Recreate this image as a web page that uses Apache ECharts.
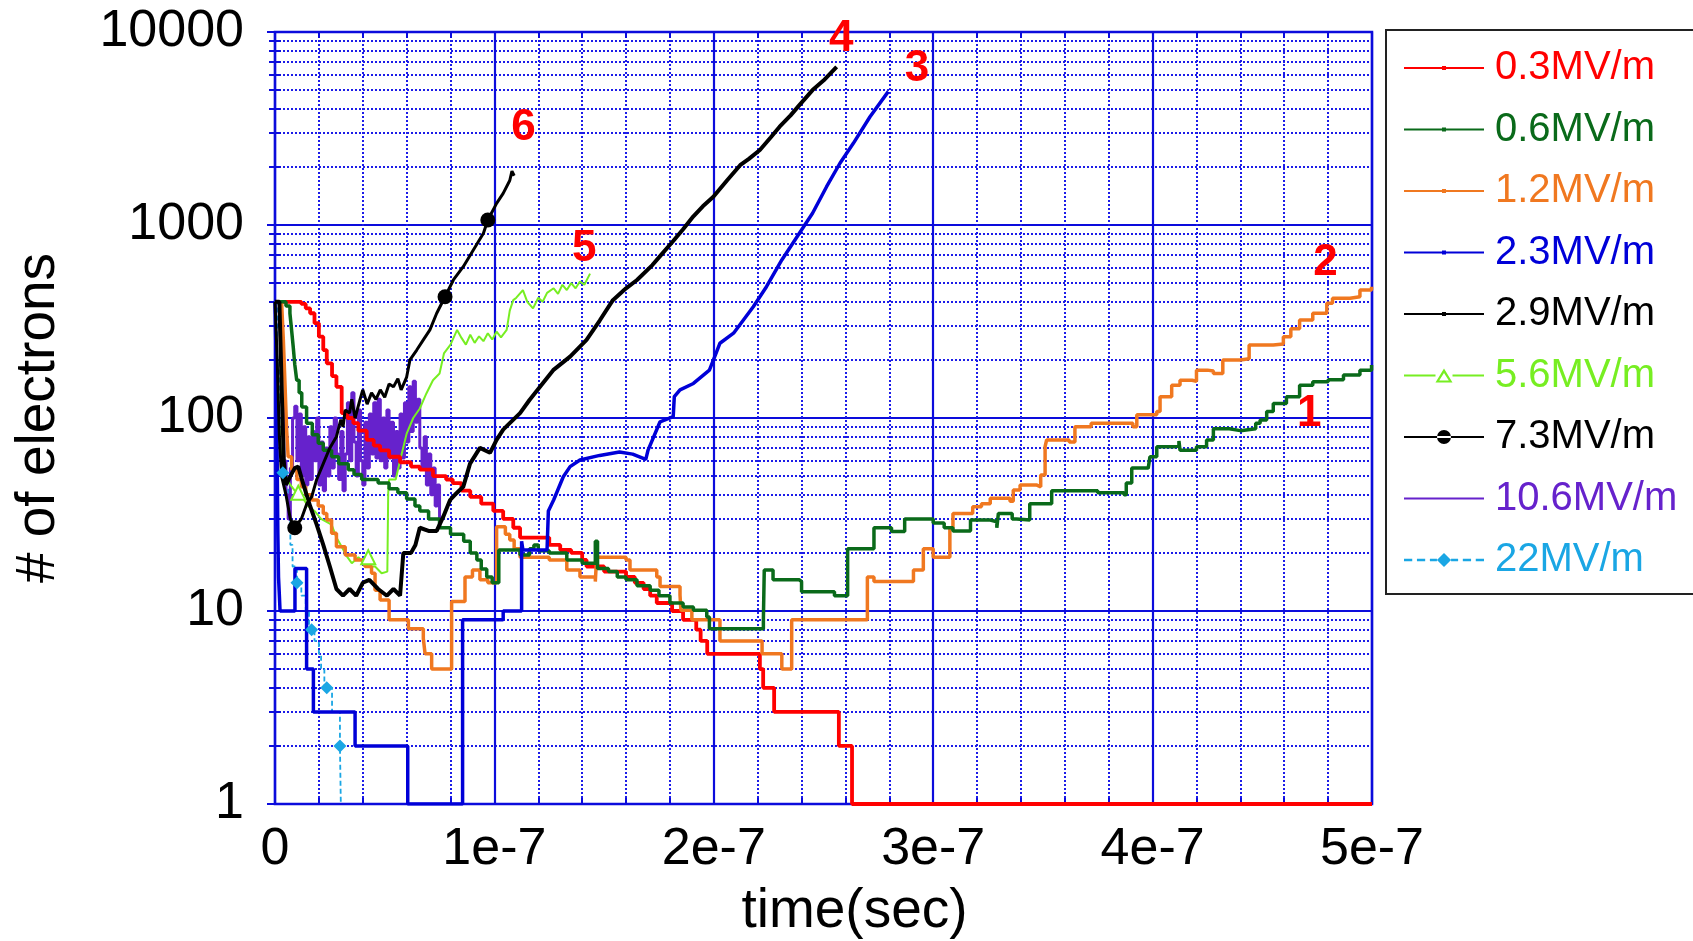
<!DOCTYPE html>
<html><head><meta charset="utf-8">
<script src="https://cdn.jsdelivr.net/npm/echarts@6/dist/echarts.min.js"></script>
<style>html,body{margin:0;padding:0;background:#fff}#c{width:1693px;height:941px}</style>
</head><body><div id="c"></div>
<script>
// ---------- data (time in ns, value = number of electrons) ----------
const seriesNames = ['0.3MV/m','0.6MV/m','1.2MV/m','2.3MV/m','2.9MV/m','5.6MV/m','7.3MV/m','10.6MV/m','22MV/m'];
const xTickLabels = ['0','1e-7','2e-7','3e-7','4e-7','5e-7'];
const yTickLabels = ['1','10','100','1000','10000'];

const s03 = [[0,400],[12,390],[14,370],[16,349],[18,310],[20,264],[22,225],[23.6,192],[26,165],[28,145],[30.4,106],[33,100],[35.7,94],[38,86],[41.8,77],[45,72],[47.9,68],[52,63],[57,59],[62,56],[66,54],[72,50],[78,48],[81,46],[85,42],[89,39],[94,36],[99.5,33],[104,30],[108.6,27],[111.7,24],[125,22],[130,20.7],[135,20],[140,18.4],[142,17],[150,16],[160,15],[164,14],[168,13],[171,12],[174,11],[181,10],[186,9],[192,8],[194,7],[197,6],[221,5],[222.5,4],[227.5,3],[257,2],[263,1],[500,1]];

const s06 = [[0,400],[3.8,400],[5,380],[6.8,349],[7.5,290],[8.3,234],[9,190],[9.9,157],[11,135],[12.2,114],[14.4,94],[17,82],[19.7,74],[22,68],[25.8,63],[29,58],[33.4,54],[36,51],[39.5,48],[47,46],[52,43],[56,41],[60,38],[63.8,35],[66,33],[70,30],[75,27],[80,25],[86,23],[89,20],[92,18.4],[94,16.5],[96.5,15],[99,14],[102,20.7],[111.7,19.5],[116,21],[118,22],[120,20.5],[125,20],[133,18.4],[140,17.7],[146,23],[147,16.6],[152,16],[156,15],[160,14.5],[165,13.5],[171,12.8],[175,12],[180,11],[186,10.5],[190.7,10.1],[196.8,9.3],[198,8.1],[222.6,9],[223,16.3],[227,14.5],[239,14.2],[240,12.6],[255,12],[261,21],[273,27],[281,25.8],[287,30],[300,28.6],[305,27],[309,26],[317,29.6],[326,29],[329,27],[329.7,32],[336,30],[338,29.6],[344,36],[354,42],[370,42],[375,41],[387,40],[388,46],[390.5,55],[398,56],[398.8,63],[401.9,71],[410,72],[412,76],[412.5,68],[420,71],[424.6,77],[427.7,88],[435,86],[440,88],[447,94],[449,97.6],[452,108],[455,119],[461,129],[467,148],[473,154],[480,158],[487,167],[494.5,177],[499.8,188]];

const s12 = [[0,400],[3,400],[3.8,254],[4.6,145],[5.3,87],[6,63],[7.6,54],[10,48],[12,44],[14,40],[16.7,37.6],[19.7,35],[22,32],[23.6,29.6],[25.8,25.3],[28,21.5],[32,19.5],[36.5,18.4],[41,17],[44,15.7],[45.6,12.8],[47.9,11.4],[52,9],[60.8,8.1],[67.6,7.2],[68.4,6],[71.4,5],[80.5,11.2],[86.6,15],[90,16.3],[93.4,14.5],[97,14],[101,27.3],[105,25],[107,23.3],[109,21],[111.7,19],[125,18.4],[133,16.3],[139,15],[146,14.2],[146.6,19],[160,18.4],[161.8,16.3],[174,15],[175.5,13.4],[184.6,12.1],[185,10.1],[190,9],[202.8,7],[222,6],[231,5],[235.5,9],[270,15],[273,14.2],[291,16.3],[295.5,21],[300,19],[307.6,26.8],[309,32],[318,34.7],[322,36],[326,38.4],[335,37],[336.5,42.4],[339.6,45],[347,44],[349,50.7],[351,71],[351.7,77],[362,75],[364.6,90],[372,94],[391,90],[392.8,104],[401.9,108],[403.4,129],[408.7,148],[412.5,157],[418,155],[420,177],[425,175],[427.7,170],[432,200],[440,203],[444,239],[455,242],[459.6,264],[463,290],[467,322],[473,349],[479.4,393],[482,417],[490,425],[494.5,460],[499.8,479]];

const s23 = [[0,400],[0.5,200],[1,60],[1.3,25],[1.6,15],[2,12],[2.3,10],[9.1,10],[9.1,16.6],[14.4,16.6],[14.4,5],[17.5,5],[17.5,3],[36.5,3],[36.5,2],[60.5,2],[60.5,1],[85.5,1],[85.5,9],[104,9],[104,10],[112.4,10],[112.4,23],[113,20.7],[124,20.7],[124.6,33],[127,37.6],[131.4,49.6],[134.5,56],[139,60.6],[148,64],[157,66.6],[163,65],[169,61],[170,68],[175.5,95.6],[181.5,101.6],[182,129],[184.6,140],[190.7,151],[198,177],[201,216],[202.8,244],[209,275],[218,377],[224,479],[231,659],[239,906],[245,1150],[251.4,1579],[257.5,2089],[263.6,2649],[271.2,3640],[279.5,4910]];

const s29 = [[0,400],[2,400],[3,150],[4,60],[5,45],[7,50],[9,55],[10.6,56],[13,45],[16,35],[19,28],[22,22],[25,17],[28,13],[31,12],[34,13],[37,12],[40,14],[43,14.5],[47,13],[51,12],[54,13],[57,12],[58.5,20],[62,20],[64,22],[66,27],[70,26],[73.7,26],[76.7,30.8],[79.8,37.6],[82,40],[85.8,44],[88.9,58],[93.4,70],[98,66],[101,77],[104,87],[107,94],[111.7,106],[116,124],[120.8,145],[126.8,177],[134.5,208],[142,254],[148,320],[154,408],[160,470],[165,519],[172,620],[176,700],[181.5,826],[186,950],[190.7,1110],[195,1250],[199.8,1400],[206,1700],[212,2040],[216,2200],[221,2447],[226,2850],[230,3230],[235,3700],[239,4180],[245,5000],[250,5600],[256,6600]];

const s56 = [[0,400],[1,200],[2,90],[3,60],[5,50],[7,45],[9,42],[10.6,41],[13,38],[15,35],[18,33],[21,30],[25.8,28],[28,24],[30.4,21.5],[33,19],[35,17.7],[38,19],[40,18],[42.5,19],[44,17],[45.6,17],[48.6,15.7],[51.2,16],[51.6,41],[52,48],[55,48],[57,60],[60,83],[63,100],[66,112],[69,134],[72,157],[75,170],[77,216],[80,240],[83,286],[85,260],[87,240],[89,270],[91,245],[93,265],[95,250],[97,275],[99,255],[101,280],[103,262],[105.6,286],[107,360],[108.6,408],[110,420],[113,460],[115,400],[117.6,370],[120,420],[122,400],[124,445],[127,470],[129,440],[131,490],[133,460],[135,500],[137,470],[139,510],[141,490],[143.6,560]];

const s73 = [[0,400],[1,200],[2,80],[3,50],[5,40],[7,30],[9,27],[12,30],[14.5,36],[16.7,39],[19,48],[22,58],[25,70],[28,80],[30,98],[31,90],[32,110],[34,106],[35,125],[36.5,100],[38.7,124],[40,140],[42,118],[44,135],[46,125],[48,140],[50,128],[52,150],[54,145],[56,160],[57.5,140],[60,163],[61.5,200],[64.6,225],[67.6,254],[70.6,286],[73.7,349],[77.5,425],[81.3,519],[85.8,608],[90.4,742],[95,906],[97,1062],[101,1294],[104,1458],[107,1700],[108,1900],[109,1800]];

const s106 = [[0,400],[2,300],[3,120],[4,60],[5,40],[6,30],[7,55],[8,100],[9,115],[10,60],[11,105],[12,50],[13,90],[14,45],[15,80],[16,48],[17,85],[18,60],[19,100],[20,45],[21,75],[22,42],[23,70],[24,50],[25,90],[26,55],[27,100],[28,65],[29,48],[30,85],[31,42],[32,65],[33,120],[34,60],[35,135],[36,75],[37,50],[38,110],[39,60],[40,45],[41,95],[42,55],[43,105],[44,65],[45,120],[46,62],[47,125],[48,60],[49,100],[50,55],[51,110],[52,62],[53,95],[54,50],[55,85],[56,55],[57,105],[58,62],[59,120],[60,75],[61,145],[62,85],[63,155],[64,95],[65,125],[66,70],[67,55],[68,80],[69,45],[70,65],[71,40],[72,55],[73,35],[74,45],[75,30]];

const s22 = [[0,400],[1,200],[2,80],[3.6,52],[5,44],[6,30],[7,22],[8,17],[10,14],[12,12],[14,10],[15.5,8],[16.7,8],[18,7],[20,6],[21,5],[22.5,4],[23.6,4],[26,3],[28,3],[29.6,2],[30,1]];

// points carrying a marker symbol (time values)
const marks56 = [10.6, 42.5];
const marks73 = [9, 77.5, 97];
const marks22 = [3.6, 10, 16.7, 23.6, 29.6];

// curve number annotations [time ns, electrons, text]
const curveLabels = [[258.1,9250,'4'],[292.6,6460,'3'],[113.3,3184,'6'],[140.9,753,'5'],[478.8,637,'2'],[471.4,105,'1']];

// ---------- styling ----------
const FONT = "'Liberation Sans', Arial, Helvetica, sans-serif";
const GRID_BLUE = '#0c0cdc';
const DOT_BLUE = '#1c1ce8';
const COL = ['#ff0000','#0a6a1a','#f07820','#0000d8','#000000','#77ee22','#000000','#6622cc','#1aa6e4'];

const ICON_DOT = 'path://M0,9H80V11H0Z M38,8H42V12H38Z';
const ICON_TRI = 'path://M0,9H31.5V11H0Z M48.5,9H80V11H48.5Z M40,3L48.5,17L31.5,17Z M40,7.5L35.2,15L44.8,15Z';
const ICON_CIRC = 'path://M0,9H80V11H0Z M33,10A7,7 0 1 0 47,10A7,7 0 1 0 33,10Z';
const ICON_LINE = 'path://M0,9H80V11H0Z';
const ICON_DASH = 'path://M6,9H13V11H6Z M17,9H24V11H17Z M28,9H34V11H28Z M40,4L46,10L40,16L34,10Z M46,9H52V11H46Z M56,9H63V11H56Z M67,9H74V11H67Z';
const icons = [ICON_DOT,ICON_DOT,ICON_DOT,ICON_DOT,ICON_DOT,ICON_TRI,ICON_CIRC,ICON_LINE,ICON_DASH];

function markSize(marks, size) {
  return function (val) { return marks.indexOf(val[0]) >= 0 ? size : 0; };
}
function mkLine(idx, data, width, extra) {
  return Object.assign({
    type: 'line', name: seriesNames[idx], data: data,
    showSymbol: false, symbol: 'none', silent: true,
    color: COL[idx],
    lineStyle: { color: COL[idx], width: width },
    itemStyle: { color: COL[idx] },
    emphasis: { disabled: true }
  }, extra || {});
}

const axisTickCommon = { show: true, inside: true, length: 8, lineStyle: { color: GRID_BLUE, width: 2 } };
const minorTickCommon = { show: true, length: 6, lineStyle: { color: GRID_BLUE, width: 2 } };
const minorSplitCommon = { show: true, lineStyle: { color: DOT_BLUE, width: 2, type: [2, 2] } };
const splitCommon = { show: true, lineStyle: { color: GRID_BLUE, width: 2.2 } };

const chart = echarts.init(document.getElementById('c'));
chart.setOption({
  animation: false,
  backgroundColor: '#ffffff',
  textStyle: { fontFamily: FONT },
  grid: { left: 275, right: 321, top: 32, bottom: 137, show: true, borderColor: GRID_BLUE, borderWidth: 2.5, containLabel: false, outerBoundsMode: 'none' },
  legend: {
    orient: 'vertical', left: 1386, top: 30,
    padding: [16, 30, 12, 18],
    itemWidth: 80, itemHeight: 20, itemGap: 17.5,
    backgroundColor: '#ffffff', borderColor: '#222222', borderWidth: 2,
    selectedMode: false, symbolKeepAspect: true,
    itemStyle: { borderWidth: 0 },
    textStyle: { fontSize: 40, lineHeight: 44, fontFamily: FONT, padding: [0, 0, 0, 6] },
    data: seriesNames.map(function (n, i) {
      return { name: n, icon: icons[i], itemStyle: { color: COL[i], borderWidth: 0 }, textStyle: { color: COL[i] } };
    })
  },
  xAxis: [{
    type: 'value', min: 0, max: 500, interval: 100,
    name: 'time(sec)', nameLocation: 'middle', nameGap: 80,
    nameTextStyle: { fontSize: 55, color: '#000', fontFamily: FONT, padding: [0, 0, 0, 62] },
    axisLine: { show: false },
    axisTick: axisTickCommon,
    minorTick: Object.assign({ splitNumber: 5 }, minorTickCommon),
    splitLine: splitCommon,
    minorSplitLine: minorSplitCommon,
    axisLabel: { fontSize: 52, color: '#000', fontFamily: FONT, margin: 20,
      formatter: function (v) { const k = Math.round(v / 100); return xTickLabels[k] !== undefined ? xTickLabels[k] : ''; } }
  }, {
    type: 'value', min: 0, max: 500, interval: 100, position: 'top',
    axisLine: { show: false }, axisLabel: { show: false },
    axisTick: axisTickCommon,
    minorTick: Object.assign({ splitNumber: 5 }, minorTickCommon),
    splitLine: { show: false }
  }],
  yAxis: [{
    type: 'log', logBase: 10, min: 1, max: 10000,
    name: '# of electrons', nameLocation: 'middle', nameGap: 209,
    nameTextStyle: { fontSize: 55, color: '#000', fontFamily: FONT },
    axisLine: { show: false },
    axisTick: axisTickCommon,
    minorTick: Object.assign({ splitNumber: 9 }, minorTickCommon),
    splitLine: splitCommon,
    minorSplitLine: minorSplitCommon,
    axisLabel: { fontSize: 52, color: '#000', fontFamily: FONT, margin: 31,
      formatter: function (v) { const k = Math.round(Math.log10(v)); return yTickLabels[k] !== undefined ? yTickLabels[k] : ''; } }
  }, {
    type: 'log', logBase: 10, min: 1, max: 10000, position: 'right',
    axisLine: { show: false }, axisLabel: { show: false },
    axisTick: axisTickCommon,
    minorTick: Object.assign({ splitNumber: 9 }, minorTickCommon),
    splitLine: { show: false }
  }],
  series: [
    mkLine(8, s22, 1.8, { step: 'end', lineStyle: { color: COL[8], width: 1.8, type: [5, 3] },
      showSymbol: true, symbol: 'diamond', symbolSize: markSize(marks22, 13) }),
    mkLine(7, s106, 3, { step: 'end' }),
    mkLine(5, s56, 2, { showSymbol: true, symbol: 'emptyTriangle', symbolSize: markSize(marks56, 14),
      itemStyle: { color: COL[5], borderColor: COL[5], borderWidth: 2 } }),
    mkLine(0, s03, 3.8, { step: 'end' }),
    mkLine(2, s12, 3.5, { step: 'end' }),
    mkLine(1, s06, 3.5, { step: 'end' }),
    mkLine(3, s23, 3.5),
    mkLine(6, s73, 3, { showSymbol: true, symbol: 'circle', symbolSize: markSize(marks73, 15) }),
    mkLine(4, s29, 4),
    {
      type: 'scatter', name: 'curve labels', silent: true, symbol: 'circle', symbolSize: 2,
      itemStyle: { color: 'rgba(255,255,255,0)', opacity: 1 },
      data: curveLabels.map(function (d) { return [d[0], d[1], d[2]]; }),
      label: { show: true, position: 'inside', color: '#ff0000', opacity: 1, fontSize: 44, fontWeight: 'bold', fontFamily: FONT,
        textBorderWidth: 0, textBorderColor: 'transparent',
        formatter: function (p) { return p.value[2]; } },
      labelLayout: { hideOverlap: false },
      emphasis: { disabled: true },
      z: 10
    }
  ]
});
</script>
</body></html>
